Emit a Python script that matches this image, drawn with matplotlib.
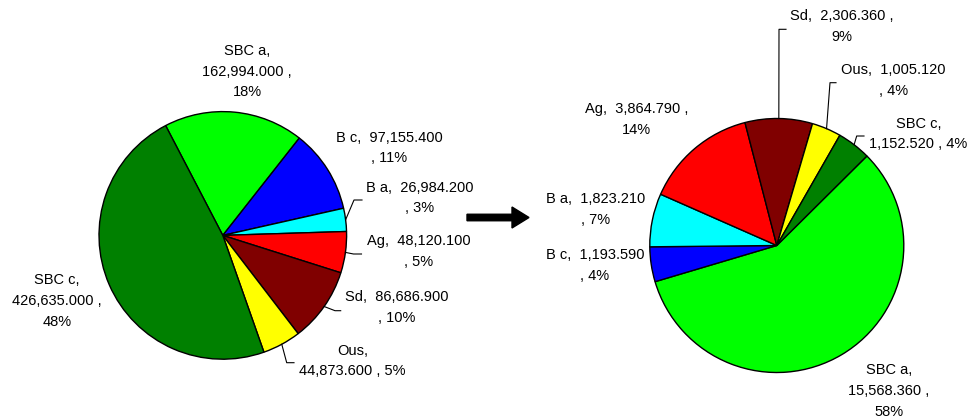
import matplotlib
matplotlib.use("Agg")
import matplotlib.pyplot as plt
from matplotlib.patches import FancyArrow
import numpy as np

plt.rcParams['font.family'] = ['Liberation Sans', 'DejaVu Sans']

# Sample categories, in drawing order (clockwise)
categories = ["SBC a", "B c", "B a", "Ag", "Sd", "Ous", "SBC c"]
colors = ["#00FF00", "#0000FF", "#00FFFF", "#FF0000", "#800000", "#FFFF00", "#008000"]

# Mass per category before and after treatment
before_values = [162994.000, 97155.400, 26984.200, 48120.100, 86686.900, 44873.600, 426635.000]
after_values = [15568.360, 1193.590, 1823.210, 3864.790, 2306.360, 1005.120, 1152.520]

# How each data label wraps
before_wrap = ["B", "A", "A", "A", "A", "C", "B"]
after_wrap = ["B", "A", "A", "D", "D", "A", "C"]

W, H = 971, 419
fig = plt.figure(figsize=(W / 100, H / 100), dpi=100)
FS = 10.5
LS = 1.6


def label_text(name, value, pct, style):
    v = f"{value:,.3f}"
    if style == "A":
        return f"{name},  {v}\n, {pct}%"
    if style == "B":
        return f"{name},\n{v} ,\n{pct}%"
    if style == "C":
        return f"{name},\n{v} , {pct}%"
    return f"{name},  {v} ,\n{pct}%"


def draw_pie(values, cx, cy, r, startangle):
    ax = fig.add_axes([(cx - r) / W, (H - cy - r) / H, 2 * r / W, 2 * r / H])
    wedges, _ = ax.pie(values, colors=colors, startangle=startangle,
                       counterclock=False, radius=1,
                       wedgeprops=dict(edgecolor="black", linewidth=1.0))
    ax.set_xlim(-1.0, 1.0)
    ax.set_ylim(-1.0, 1.0)
    ax.axis("off")
    # wedge mid-angle points on the rim, in pixel coordinates
    rim = []
    for w in wedges:
        a = np.deg2rad((w.theta1 + w.theta2) / 2)
        rim.append((cx + r * np.cos(a), cy - r * np.sin(a)))
    return rim


left_c = (222.8, 235.4, 123.8)
right_c = (776.8, 245.5, 127.0)
rim_left = draw_pie(before_values, *left_c, startangle=117.5)
rim_right = draw_pie(after_values, *right_c, startangle=44.8)

ov = fig.add_axes([0, 0, 1, 1])
ov.set_xlim(0, W)
ov.set_ylim(H, 0)
ov.axis("off")
ov.patch.set_visible(False)

# label block centres (pixels)
left_pos = {"SBC a": (247, 71.5), "B c": (389, 148), "B a": (420, 198),
            "Ag": (419, 251.5), "Sd": (397, 307.5), "Ous": (352.5, 361),
            "SBC c": (57, 301)}
right_pos = {"SBC a": (889, 391), "B c": (595, 265.5), "B a": (596, 209.7),
             "Ag": (636.5, 119.5), "Sd": (842, 26.7), "Ous": (893.5, 80.3),
             "SBC c": (918.5, 134)}

# leader line elbows (pixels)
left_leaders = {"B a": [(354, 200), (362, 200)], "Ag": [(353.5, 254), (361.5, 254)],
                "Sd": [(335, 310.7), (340.7, 310.7)], "Ous": [(286.7, 362.7), (294, 362.7)]}
right_leaders = {"Sd": [(779, 29.3), (786, 29.3)], "Ous": [(830, 82.7), (836, 82.7)],
                 "SBC c": [(856.7, 136), (864, 136)]}


def draw_labels(values, wraps, pos, leaders, rim):
    total = sum(values)
    for i, (name, v, st) in enumerate(zip(categories, values, wraps)):
        pct = int(round(100 * v / total))
        x, y = pos[name]
        ov.text(x, y, label_text(name, v, pct, st), ha="center", va="center",
                multialignment="center", fontsize=FS, linespacing=LS, color="black")
        if name in leaders:
            pts = [rim[i]] + leaders[name]
            ov.plot([p[0] for p in pts], [p[1] for p in pts], color="black", lw=0.8)


draw_labels(before_values, before_wrap, left_pos, left_leaders, rim_left)
draw_labels(after_values, after_wrap, right_pos, right_leaders, rim_right)

ov.add_patch(FancyArrow(467, 217.5, 62, 0, width=6.5, head_width=21, head_length=17,
                        length_includes_head=True, color="black"))

fig.savefig("out.png", dpi=100)
